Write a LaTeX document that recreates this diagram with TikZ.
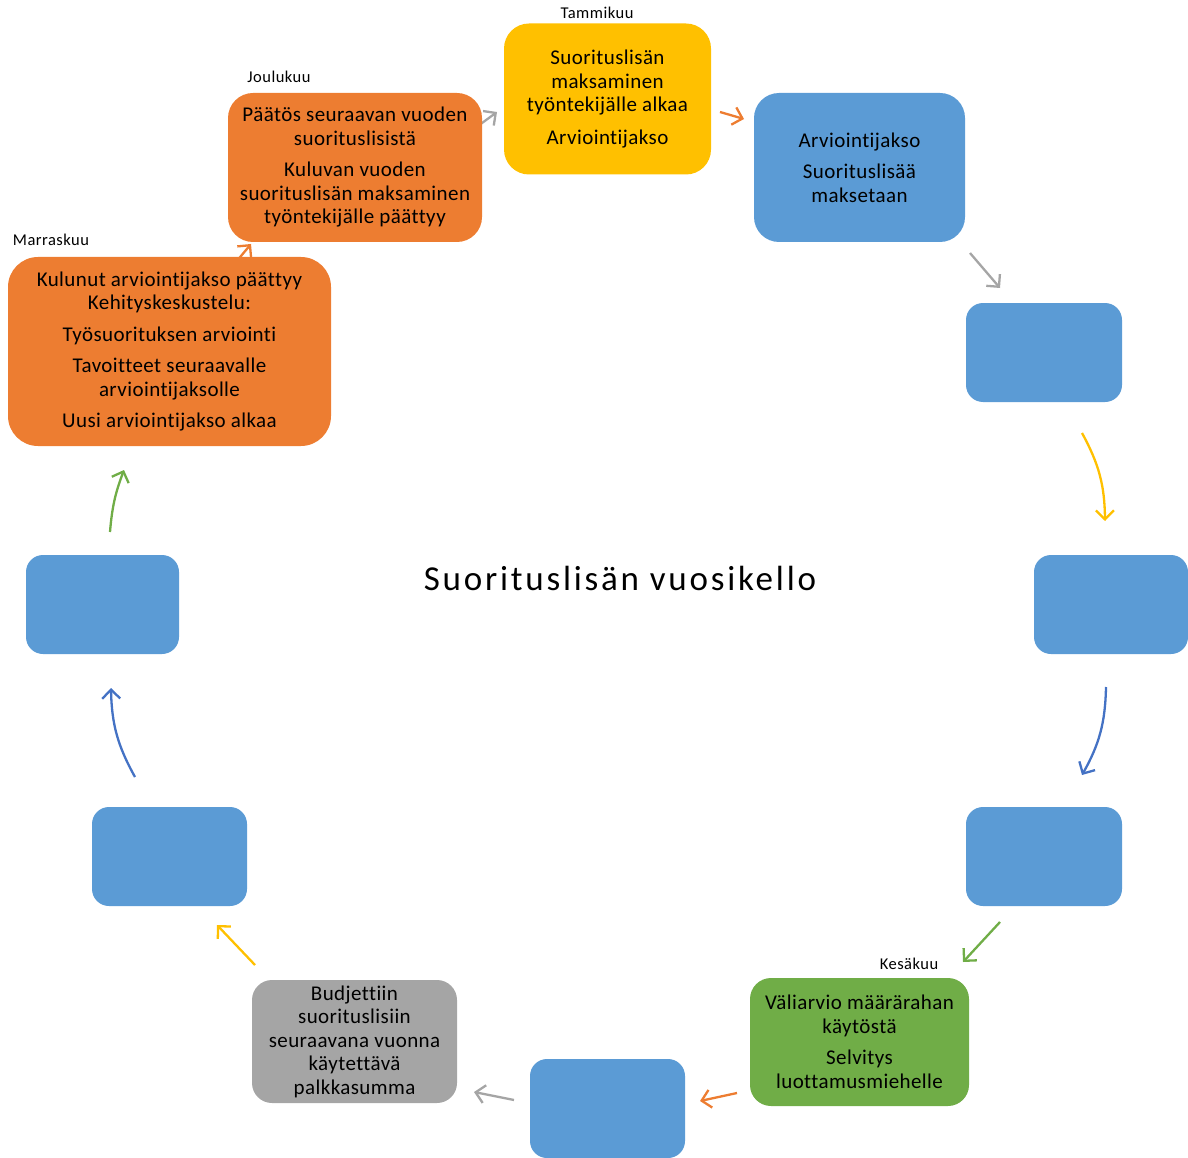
\documentclass[tikz,border=0pt]{standalone}
\usepackage{fontspec}
\setmainfont{Carlito}
\newfontfamily\boxfont[LetterSpace=2,Ligatures=NoCommon]{Carlito}
\newfontfamily\lblfont[LetterSpace=3,Ligatures=NoCommon]{Carlito}
\newfontfamily\ttlfont[LetterSpace=8,Ligatures=NoCommon]{Carlito}
\usetikzlibrary{arrows.meta}
\definecolor{cOrange}{HTML}{ED7D31}
\definecolor{cYellow}{HTML}{FFC000}
\definecolor{cBlue}{HTML}{5B9BD5}
\definecolor{cDBlue}{HTML}{4472C4}
\definecolor{cGreen}{HTML}{70AD47}
\definecolor{cGray}{HTML}{A5A5A5}
\tikzset{
  box/.style={rectangle, inner sep=0pt, align=center, text=black,
    font=\boxfont\fontsize{21}{23.5}\selectfont},
  monthlbl/.style={inner sep=0pt, font=\lblfont\fontsize{16.5}{19}\selectfont},
  cyc/.style={line width=2.3pt, -{Straight Barb[length=9pt,width=18pt,line width=2.3pt]}},
}
\begin{document}
\begin{tikzpicture}[x=1pt,y=-1pt]
\useasboundingbox (0,0) rectangle (1188,1158);
% arrow coordinates
\coordinate (a1s) at (236,262); \coordinate (a1e) at (251,244);
\coordinate (a2s) at (478,126); \coordinate (a2e) at (497,112);
\coordinate (a3s) at (720,112); \coordinate (a3e) at (744,119);
\coordinate (a4s) at (970,253); \coordinate (a4e) at (1000,288);
\coordinate (a5s) at (1082,433); \coordinate (a5e) at (1105,521);
\coordinate (a6s) at (1106,687); \coordinate (a6e) at (1082,775);
\coordinate (a7s) at (1000,922); \coordinate (a7e) at (963,962);
\coordinate (a8s) at (737,1093); \coordinate (a8e) at (700,1101);
\coordinate (a9s) at (514,1100); \coordinate (a9e) at (474,1092);
\coordinate (a10s) at (255,965); \coordinate (a10e) at (217,925);
\coordinate (a11s) at (135,777); \coordinate (a11e) at (111,688);
\coordinate (a12s) at (110,532); \coordinate (a12e) at (124,470);
\draw[cyc, cOrange] (a1s) -- (a1e);
\draw[cyc, cGray] (a2s) -- (a2e);
\draw[cyc, cOrange] (a3s) -- (a3e);
\draw[cyc, cGray] (a4s) -- (a4e);
\draw[cyc, cYellow] (a5s) to[bend left=14] (a5e);
\draw[cyc, cDBlue] (a6s) to[bend left=14] (a6e);
\draw[cyc, cGreen] (a7s) -- (a7e);
\draw[cyc, cOrange] (a8s) -- (a8e);
\draw[cyc, cGray] (a9s) -- (a9e);
\draw[cyc, cYellow] (a10s) -- (a10e);
\draw[cyc, cDBlue] (a11s) to[bend left=14] (a11e);
\draw[cyc, cGreen] (a12s) to[bend left=8] (a12e);
% boxes
\node[box, fill=cYellow, minimum width=207pt, minimum height=151pt, rounded corners=25pt] (yel) at (607.5,99)
  {Suorituslisän\\maksaminen\\työntekijälle alkaa\\[9pt]Arviointijakso};
\node[box, fill=cOrange, minimum width=254pt, minimum height=149pt, rounded corners=25pt] (jou) at (355,167.5)
  {Päätös seuraavan vuoden\\suorituslisistä\\[8pt]Kuluvan vuoden\\suorituslisän maksaminen\\työntekijälle päättyy};
\node[box, fill=cOrange, minimum width=323pt, minimum height=189pt, rounded corners=30pt] (mar) at (169.5,351.5)
  {Kulunut arviointijakso päättyy\\Kehityskeskustelu:\\[8pt]Työsuorituksen arviointi\\[8pt]Tavoitteet seuraavalle\\arviointijaksolle\\[8pt]Uusi arviointijakso alkaa};
\node[box, fill=cBlue, minimum width=211pt, minimum height=149pt, rounded corners=25pt] (arv) at (859.5,167.5)
  {Arviointijakso\\[8pt]Suorituslisää\\maksetaan};
\node[box, fill=cBlue, minimum width=156pt, minimum height=99pt, rounded corners=17pt] (b2) at (1044,352.5) {};
\node[box, fill=cBlue, minimum width=154pt, minimum height=99pt, rounded corners=17pt] (b3) at (1111,604.5) {};
\node[box, fill=cBlue, minimum width=156pt, minimum height=99pt, rounded corners=17pt] (b4) at (1044,856.5) {};
\node[box, fill=cGreen, minimum width=219pt, minimum height=128pt, rounded corners=21pt] (kes) at (859.5,1042)
  {Väliarvio määrärahan\\käytöstä\\[8pt]Selvitys\\luottamusmiehelle};
\node[box, fill=cBlue, minimum width=155pt, minimum height=99pt, rounded corners=17pt] (b5) at (607.5,1108.5) {};
\node[box, fill=cGray, minimum width=205pt, minimum height=123pt, rounded corners=20pt] (gra) at (354.5,1041.5)
  {Budjettiin\\suorituslisiin\\seuraavana vuonna\\käytettävä\\palkkasumma};
\node[box, fill=cBlue, minimum width=155pt, minimum height=99pt, rounded corners=17pt] (b6) at (169.5,856.5) {};
\node[box, fill=cBlue, minimum width=153pt, minimum height=99pt, rounded corners=17pt] (b7) at (102.5,604.5) {};
% labels
\node[monthlbl] (lTam) at (597,13) {Tammikuu};
\node[monthlbl] (lJou) at (279,77) {Joulukuu};
\node[monthlbl] (lMar) at (51,240) {Marraskuu};
\node[monthlbl] (lKes) at (909,964) {Kesäkuu};
\node[inner sep=0pt, font=\ttlfont\fontsize{35}{40}\selectfont] (title) at (620,578) {Suorituslisän vuosikello};
\end{tikzpicture}
\end{document}
